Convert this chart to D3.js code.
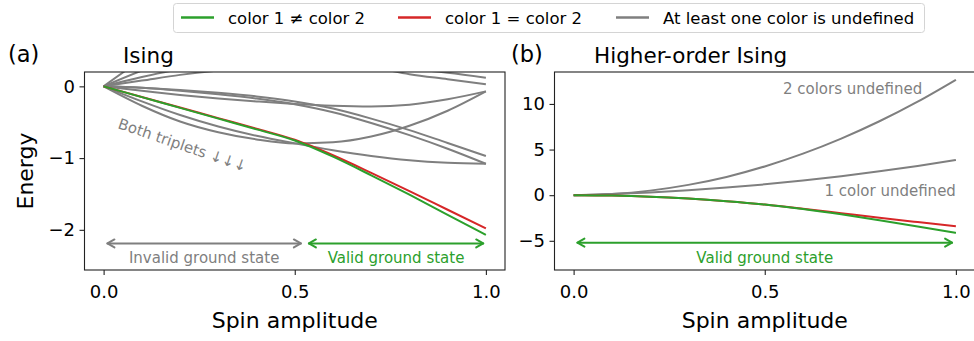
<!DOCTYPE html>
<meta charset="utf-8">
<body>
<style>
  body { margin: 0; background: #fff; }
  svg text { font-family: "DejaVu Sans", sans-serif; }
  .tick text { font-size: 18px; fill: #000; }
  .tick line { stroke: #222; stroke-width: 1.1; }
  .axis-label { font-size: 22px; fill: #000; }
  .title { font-size: 21.5px; fill: #000; }
  .panel-tag { font-size: 22.5px; fill: #000; }
  .note { font-size: 15px; }
  .legend text { font-size: 16.5px; fill: #000; }
</style>
<svg width="974" height="341"></svg>
<script src="https://d3js.org/d3.v7.min.js"></script>
<script>

// spin amplitude samples shared by every curve
var spin = [0, 0.1, 0.2, 0.3, 0.4, 0.5, 0.6, 0.7, 0.8, 0.9, 1.0];

// (a) Ising
var isingDiff = [0, -0.15, -0.30, -0.45, -0.60, -0.755, -0.98, -1.24, -1.51, -1.79, -2.07];
var isingSame = [0, -0.148, -0.295, -0.443, -0.59, -0.745, -0.96, -1.205, -1.46, -1.72, -1.98];
var isingUndefA = [0, -0.06, -0.12, -0.17, -0.21, -0.245, -0.27, -0.28, -0.255, -0.18, -0.07];
var isingUndefB = [0, -0.27, -0.49, -0.64, -0.74, -0.795, -0.78, -0.70, -0.55, -0.34, -0.07];
var isingUndefC = [0, -0.02, -0.05, -0.09, -0.14, -0.21, -0.31, -0.45, -0.61, -0.79, -0.97];
var isingUndefD = [0, -0.02, -0.06, -0.11, -0.17, -0.25, -0.36, -0.51, -0.68, -0.87, -1.08];
var isingUndefE = [0, -0.21, -0.40, -0.56, -0.69, -0.795, -0.89, -0.97, -1.03, -1.065, -1.08];
var isingUndefF = [0, 0.37, 0.66, 0.88, null, null, null, null, null, null, null];
var isingUndefG = [0, 0.22, 0.41, 0.56, null, null, null, null, null, null, null];
var isingUndefH = [0, 0.13, 0.24, 0.31, 0.35, 0.36, 0.34, 0.27, 0.17, 0.10, 0.03];
var isingUndefI = [0, 0.08, 0.16, 0.22, 0.26, 0.28, 0.285, 0.27, 0.24, 0.19, 0.12];
var isingUndef = [isingUndefA, isingUndefB, isingUndefC, isingUndefD, isingUndefE,
                  isingUndefF, isingUndefG, isingUndefH, isingUndefI];

// (b) Higher-order Ising
var hoDiff = [0, -0.04, -0.16, -0.37, -0.66, -1.03, -1.52, -2.10, -2.75, -3.43, -4.14];
var hoSame = [0, -0.04, -0.16, -0.37, -0.66, -1.02, -1.48, -1.98, -2.48, -2.95, -3.41];
var hoUndef1 = [0, 0.12, 0.30, 0.54, 0.83, 1.19, 1.60, 2.08, 2.61, 3.20, 3.85];
var hoUndef2 = [0, 0.13, 0.50, 1.13, 2.00, 3.15, 4.55, 6.20, 8.10, 10.25, 12.65];

// ticks
var xTicks = [0, 0.5, 1.0];
var yTicksA = [-2, -1, 0];
var yTicksB = [-5, 0, 5, 10];

var green = "#2ca02c", red = "#d62728", gray = "#7f7f7f";

var svg = d3.select("svg");
var plotTop = 72, plotBottom = 270;

function drawPanel(id, left, right, yDomain, yTicks) {
  var x = d3.scaleLinear().domain([-0.05, 1.05]).range([left, right]);
  var y = d3.scaleLinear().domain(yDomain).range([plotBottom, plotTop]);

  svg.append("clipPath").attr("id", "clip-" + id)
    .append("rect")
      .attr("x", left).attr("y", plotTop)
      .attr("width", right - left).attr("height", plotBottom - plotTop);

  var xAxis = svg.append("g")
      .attr("transform", "translate(0," + plotBottom + ")")
      .call(d3.axisBottom(x).tickValues(xTicks).tickFormat(d3.format(".1f"))
        .tickSize(5).tickPadding(10));
  xAxis.select(".domain").remove();

  var yAxis = svg.append("g")
      .attr("transform", "translate(" + left + ",0)")
      .call(d3.axisLeft(y).tickValues(yTicks).tickFormat(d3.format("d"))
        .tickSize(5).tickPadding(4.5));
  yAxis.select(".domain").remove();

  svg.selectAll(".tick text").attr("font-family", null);
  svg.selectAll(".tick").attr("font-size", null);

  svg.append("text")
      .attr("class", "axis-label")
      .attr("x", (left + right) / 2)
      .attr("y", 328)
      .attr("text-anchor", "middle")
      .text("Spin amplitude");

  var plot = svg.append("g").attr("clip-path", "url(#clip-" + id + ")");
  return { x: x, y: y, plot: plot, left: left, right: right };
}

function drawCurve(p, values, color) {
  var line = d3.line()
      .defined(function (d) { return d != null; })
      .x(function (d, i) { return p.x(spin[i]); })
      .y(function (d) { return p.y(d); })
      .curve(d3.curveMonotoneX);
  p.plot.append("path")
      .attr("d", line(values))
      .attr("fill", "none")
      .attr("stroke", color)
      .attr("stroke-width", 2);
}

function drawArrow(p, s1, s2, e, color, label) {
  var x1 = p.x(s1), x2 = p.x(s2), yy = p.y(e);
  var g = svg.append("g")
      .attr("stroke", color)
      .attr("stroke-width", 2)
      .attr("fill", "none")
      .attr("stroke-linecap", "round")
      .attr("stroke-linejoin", "round");
  g.append("line").attr("x1", x1).attr("x2", x2).attr("y1", yy).attr("y2", yy);
  g.append("path").attr("d", "M" + (x1 + 7) + "," + (yy - 4) + "L" + x1 + "," + yy + "L" + (x1 + 7) + "," + (yy + 4));
  g.append("path").attr("d", "M" + (x2 - 7) + "," + (yy - 4) + "L" + x2 + "," + yy + "L" + (x2 - 7) + "," + (yy + 4));
  svg.append("text")
      .attr("class", "note")
      .attr("x", (x1 + x2) / 2)
      .attr("y", yy + 20)
      .attr("text-anchor", "middle")
      .attr("fill", color)
      .text(label);
}

function drawFrame(p) {
  svg.append("rect")
      .attr("x", p.left).attr("y", plotTop)
      .attr("width", p.right - p.left).attr("height", plotBottom - plotTop)
      .attr("fill", "none")
      .attr("stroke", "#222")
      .attr("stroke-width", 1.1);
}

// ---- panel (a)
var pa = drawPanel("a", 84.5, 505, [-2.56, 0.2], yTicksA);
isingUndef.forEach(function (v) { drawCurve(pa, v, gray); });
drawCurve(pa, isingSame, red);
drawCurve(pa, isingDiff, green);
drawFrame(pa);
drawArrow(pa, 0.01, 0.516, -2.19, gray, "Invalid ground state");
drawArrow(pa, 0.537, 0.993, -2.19, green, "Valid ground state");

svg.append("text")
    .attr("class", "note")
    .attr("fill", gray)
    .attr("transform", "translate(117,128) rotate(19)")
    .text("Both triplets \u2193\u2193\u2193");

svg.append("text").attr("class", "panel-tag").attr("x", 8).attr("y", 62).text("(a)");
svg.append("text").attr("class", "title").attr("x", 123).attr("y", 63).text("Ising");

svg.append("text")
    .attr("class", "axis-label")
    .attr("transform", "translate(33," + ((plotTop + plotBottom) / 2) + ") rotate(-90)")
    .attr("text-anchor", "middle")
    .text("Energy");

// ---- panel (b)
var pb = drawPanel("b", 554.5, 975, [-8.2, 13.5], yTicksB);
drawCurve(pb, hoUndef2, gray);
drawCurve(pb, hoUndef1, gray);
drawCurve(pb, hoSame, red);
drawCurve(pb, hoDiff, green);
drawFrame(pb);
drawArrow(pb, 0.01, 0.99, -5.2, green, "Valid ground state");

svg.append("text").attr("class", "note").attr("fill", gray)
    .attr("x", pb.x(0.912)).attr("y", 94.3).attr("text-anchor", "end")
    .text("2 colors undefined");
svg.append("text").attr("class", "note").attr("fill", gray)
    .attr("x", pb.x(1.0)).attr("y", 195.7).attr("text-anchor", "end")
    .text("1 color undefined");

svg.append("text").attr("class", "panel-tag").attr("x", 511).attr("y", 62).text("(b)");
svg.append("text").attr("class", "title").attr("x", 594).attr("y", 63).text("Higher-order Ising");

// ---- legend
var legendItems = [
  { label: "color 1 \u2260 color 2", color: green, x: 181 },
  { label: "color 1 = color 2", color: red, x: 398 },
  { label: "At least one color is undefined", color: gray, x: 616 }
];
var legend = svg.append("g").attr("class", "legend");
legend.append("rect")
    .attr("x", 173.5).attr("y", 3.5)
    .attr("width", 751).attr("height", 29)
    .attr("rx", 3)
    .attr("fill", "#fff")
    .attr("stroke", "#d4d4d4");
var item = legend.selectAll("g.item")
    .data(legendItems)
    .enter().append("g").attr("class", "item");
item.append("line")
    .attr("x1", function (d) { return d.x; })
    .attr("x2", function (d) { return d.x + 33; })
    .attr("y1", 17.5).attr("y2", 17.5)
    .attr("stroke", function (d) { return d.color; })
    .attr("stroke-width", 2.5);
item.append("text")
    .attr("x", function (d) { return d.x + 47; })
    .attr("y", 23.5)
    .text(function (d) { return d.label; });

</script>
</body>
